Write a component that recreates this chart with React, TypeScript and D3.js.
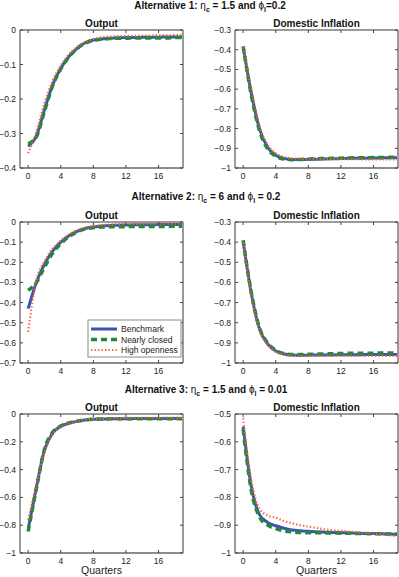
import * as d3 from 'd3';

// quarters 0..19
const quarters = d3.range(0, 20);

// Alternative 1: eta_c = 1.5, phi_l = 0.2
const bench1Out = [-0.337, -0.308, -0.231, -0.159, -0.111, -0.077, -0.053, -0.037, -0.029, -0.026, -0.024, -0.023, -0.022, -0.022, -0.021, -0.021, -0.021, -0.02, -0.02, -0.02];
const closed1Out = [-0.33, -0.31, -0.236, -0.162, -0.113, -0.078, -0.054, -0.038, -0.03, -0.027, -0.025, -0.024, -0.024, -0.023, -0.023, -0.023, -0.023, -0.023, -0.022, -0.022];
const open1Out = [-0.357, -0.295, -0.212, -0.147, -0.103, -0.071, -0.049, -0.034, -0.026, -0.021, -0.019, -0.018, -0.017, -0.017, -0.016, -0.016, -0.015, -0.015, -0.014, -0.014];
const bench1Inf = [-0.385, -0.62, -0.8, -0.895, -0.935, -0.951, -0.957, -0.957, -0.956, -0.955, -0.954, -0.953, -0.952, -0.951, -0.95, -0.95, -0.949, -0.949, -0.948, -0.948];
const closed1Inf = [-0.383, -0.63, -0.81, -0.903, -0.94, -0.955, -0.958, -0.957, -0.955, -0.953, -0.952, -0.951, -0.95, -0.949, -0.948, -0.948, -0.947, -0.947, -0.946, -0.946];
const open1Inf = [-0.388, -0.6, -0.785, -0.882, -0.925, -0.944, -0.951, -0.954, -0.955, -0.955, -0.955, -0.955, -0.955, -0.955, -0.955, -0.956, -0.956, -0.956, -0.957, -0.957];

// Alternative 2: eta_c = 6, phi_l = 0.2
const bench2Out = [-0.43, -0.3, -0.21, -0.145, -0.1, -0.068, -0.046, -0.032, -0.025, -0.02, -0.017, -0.016, -0.015, -0.014, -0.014, -0.014, -0.013, -0.013, -0.013, -0.013];
const closed2Out = [-0.34, -0.3, -0.225, -0.155, -0.108, -0.073, -0.049, -0.035, -0.028, -0.025, -0.024, -0.023, -0.023, -0.022, -0.022, -0.022, -0.022, -0.022, -0.021, -0.021];
const open2Out = [-0.545, -0.29, -0.195, -0.133, -0.093, -0.062, -0.041, -0.028, -0.02, -0.016, -0.013, -0.011, -0.01, -0.009, -0.009, -0.008, -0.008, -0.008, -0.008, -0.008];
const bench2Inf = [-0.395, -0.655, -0.83, -0.905, -0.94, -0.955, -0.96, -0.961, -0.961, -0.96, -0.96, -0.96, -0.959, -0.959, -0.959, -0.958, -0.958, -0.958, -0.958, -0.958];
const closed2Inf = [-0.39, -0.65, -0.825, -0.9, -0.937, -0.953, -0.958, -0.958, -0.957, -0.956, -0.955, -0.954, -0.953, -0.952, -0.952, -0.951, -0.951, -0.95, -0.95, -0.95];
const open2Inf = [-0.4, -0.665, -0.835, -0.91, -0.945, -0.958, -0.963, -0.964, -0.965, -0.965, -0.965, -0.965, -0.965, -0.965, -0.965, -0.965, -0.965, -0.965, -0.965, -0.965];

// Alternative 3: eta_c = 1.5, phi_l = 0.01
const bench3Out = [-0.827, -0.53, -0.26, -0.137, -0.089, -0.067, -0.053, -0.043, -0.038, -0.036, -0.035, -0.034, -0.034, -0.033, -0.033, -0.033, -0.032, -0.032, -0.032, -0.032];
const closed3Out = [-0.845, -0.54, -0.255, -0.132, -0.086, -0.064, -0.051, -0.042, -0.037, -0.036, -0.035, -0.035, -0.035, -0.035, -0.034, -0.034, -0.034, -0.034, -0.034, -0.034];
const open3Out = [-0.76, -0.51, -0.275, -0.145, -0.093, -0.068, -0.052, -0.041, -0.035, -0.032, -0.03, -0.029, -0.028, -0.028, -0.027, -0.027, -0.027, -0.026, -0.026, -0.026];
const bench3Inf = [-0.545, -0.76, -0.862, -0.89, -0.902, -0.911, -0.917, -0.92, -0.922, -0.924, -0.925, -0.926, -0.927, -0.928, -0.929, -0.93, -0.93, -0.931, -0.932, -0.933];
const closed3Inf = [-0.555, -0.775, -0.87, -0.9, -0.912, -0.92, -0.924, -0.926, -0.927, -0.927, -0.928, -0.928, -0.929, -0.929, -0.93, -0.93, -0.931, -0.931, -0.932, -0.932];
const open3Inf = [-0.515, -0.74, -0.84, -0.865, -0.873, -0.885, -0.893, -0.9, -0.905, -0.91, -0.915, -0.918, -0.92, -0.923, -0.925, -0.928, -0.93, -0.933, -0.936, -0.94];

const xTicks = [0, 4, 8, 12, 16];
const seriesNames = ['Benchmark', 'Nearly closed', 'High openness'];

const FONT = '"Liberation Sans", Arial, Helvetica, sans-serif';

const styles = [
  { color: '#3b54b3', width: 3, dash: null as string | null },
  { color: '#23883a', width: 3.5, dash: '6,4' },
  { color: '#ff5a3c', width: 2.2, dash: '1.3,2.2' },
];

const cols = [
  { left: 20, right: 183 },
  { left: 235, right: 398 },
];

const rows = [
  { top: 30, bottom: 168 },
  { top: 222, bottom: 363 },
  { top: 414, bottom: 553 },
];

type PanelDef = {
  title: string;
  domain: [number, number];
  yTicks: number[];
  series: number[][];
};

const panels: PanelDef[][] = [
  [
    { title: 'Output', domain: [-0.4, 0], yTicks: [0, -0.1, -0.2, -0.3, -0.4], series: [bench1Out, closed1Out, open1Out] },
    { title: 'Domestic Inflation', domain: [-1, -0.3], yTicks: [-0.3, -0.4, -0.5, -0.6, -0.7, -0.8, -0.9, -1], series: [bench1Inf, closed1Inf, open1Inf] },
  ],
  [
    { title: 'Output', domain: [-0.7, 0], yTicks: [0, -0.1, -0.2, -0.3, -0.4, -0.5, -0.6, -0.7], series: [bench2Out, closed2Out, open2Out] },
    { title: 'Domestic Inflation', domain: [-1, -0.3], yTicks: [-0.3, -0.4, -0.5, -0.6, -0.7, -0.8, -0.9, -1], series: [bench2Inf, closed2Inf, open2Inf] },
  ],
  [
    { title: 'Output', domain: [-1, 0], yTicks: [0, -0.2, -0.4, -0.6, -0.8, -1], series: [bench3Out, closed3Out, open3Out] },
    { title: 'Domestic Inflation', domain: [-1, -0.5], yTicks: [-0.5, -0.6, -0.7, -0.8, -0.9, -1], series: [bench3Inf, closed3Inf, open3Inf] },
  ],
];

const headings = [
  { x: 210, y: 9, eta: '1.5', phi: '=0.2' },
  { x: 206, y: 200, eta: '6', phi: ' = 0.2' },
  { x: 206, y: 393, eta: '1.5', phi: ' = 0.01' },
];

// MATLAB-like tick labels with a real minus sign
const fmt = (v: number) => (v === 0 ? '0' : (v < 0 ? '\u2212' : '') + String(+Math.abs(v).toFixed(2)));

function Panel({ def, col, row, legend, quartersLabel }: { def: PanelDef; col: { left: number; right: number }; row: { top: number; bottom: number }; legend?: boolean; quartersLabel?: boolean }) {
  const x = d3.scaleLinear().domain([-1, 19]).range([col.left, col.right]);
  const y = d3.scaleLinear().domain(def.domain).range([row.bottom, row.top]);
  const line = d3.line<number>()
    .x((_, i) => x(quarters[i]))
    .y(d => y(d))
    .curve(d3.curveMonotoneX);
  const cx = (col.left + col.right) / 2;

  return (
    <g>
      <defs>
        <clipPath id={`clip-${col.left}-${row.top}`}>
          <rect x={col.left} y={row.top - 2} width={col.right - col.left} height={row.bottom - row.top + 4} />
        </clipPath>
      </defs>
      <rect x={col.left} y={row.top} width={col.right - col.left} height={row.bottom - row.top} fill="white" />
      <g clipPath={`url(#clip-${col.left}-${row.top})`}>
        {def.series.map((s, k) => (
          <path key={k} d={line(s) || ''} fill="none" stroke={styles[k].color}
            strokeWidth={styles[k].width} strokeDasharray={styles[k].dash || undefined} />
        ))}
      </g>
      {/* frame */}
      <line x1={col.left} x2={col.right} y1={row.top} y2={row.top} stroke="#9a9a9a" strokeWidth={2} />
      <line x1={col.right} x2={col.right} y1={row.top} y2={row.bottom} stroke="#9a9a9a" strokeWidth={2} />
      <line x1={col.left} x2={col.right} y1={row.bottom} y2={row.bottom} stroke="#666" strokeWidth={1.3} />
      <line x1={col.left} x2={col.left} y1={row.top} y2={row.bottom} stroke="#666" strokeWidth={1.3} />
      {xTicks.map(t => (
        <g key={t}>
          <line x1={x(t)} x2={x(t)} y1={row.bottom} y2={row.bottom - 3} stroke="#444" />
          <line x1={x(t)} x2={x(t)} y1={row.top} y2={row.top + 3} stroke="#444" />
          <text x={x(t)} y={row.bottom + 10.5} textAnchor="middle" fontSize={8.5} fontFamily={FONT} fill="#222">{t}</text>
        </g>
      ))}
      {def.yTicks.map(t => (
        <g key={t}>
          <line x1={col.left} x2={col.left + 3} y1={y(t)} y2={y(t)} stroke="#444" />
          <line x1={col.right} x2={col.right - 3} y1={y(t)} y2={y(t)} stroke="#444" />
          <text x={col.left - 4} y={y(t) + 3} textAnchor="end" fontSize={8.5} fontFamily={FONT} fill="#222">{fmt(t)}</text>
        </g>
      ))}
      <text x={cx} y={row.top - 3} textAnchor="middle" fontSize={10} fontWeight="bold" fontFamily={FONT} fill="#111">{def.title}</text>
      {quartersLabel && (
        <text x={cx} y={row.bottom + 21} textAnchor="middle" fontSize={10.5} fontFamily={FONT} fill="#222">Quarters</text>
      )}
      {legend && (
        <g>
          <rect x={88} y={320} width={93} height={37} fill="white" stroke="#8a8a8a" strokeWidth={1} />
          {seriesNames.map((name, k) => {
            const ly = 329 + k * 10.5;
            return (
              <g key={name}>
                <line x1={91} x2={117} y1={ly} y2={ly} stroke={styles[k].color}
                  strokeWidth={styles[k].width} strokeDasharray={styles[k].dash || undefined} />
                <text x={121} y={ly + 3} fontSize={8.5} fontFamily={FONT} fill="#222">{name}</text>
              </g>
            );
          })}
        </g>
      )}
    </g>
  );
}

export default function App() {
  return (
    <svg width={399} height={577} style={{ position: 'absolute', left: 0, top: 0, background: 'white' }}>
      {headings.map((h, i) => (
        <text key={i} x={h.x} y={h.y} textAnchor="middle" fontSize={10} fontWeight="bold" fontFamily={FONT} fill="#111">
          {`Alternative ${i + 1}: `}
          <tspan fontWeight="normal">η</tspan>
          <tspan fontSize={7} dy={3}>c</tspan>
          <tspan dy={-3}>{` = ${h.eta} and `}</tspan>
          <tspan fontWeight="normal">ϕ</tspan>
          <tspan fontSize={7} dy={3}>l</tspan>
          <tspan dy={-3}>{h.phi}</tspan>
        </text>
      ))}
      {rows.map((row, r) =>
        cols.map((col, c) => (
          <Panel key={`${r}-${c}`} def={panels[r][c]} col={col} row={row}
            legend={r === 1 && c === 0} quartersLabel={r === 2} />
        ))
      )}
    </svg>
  );
}
